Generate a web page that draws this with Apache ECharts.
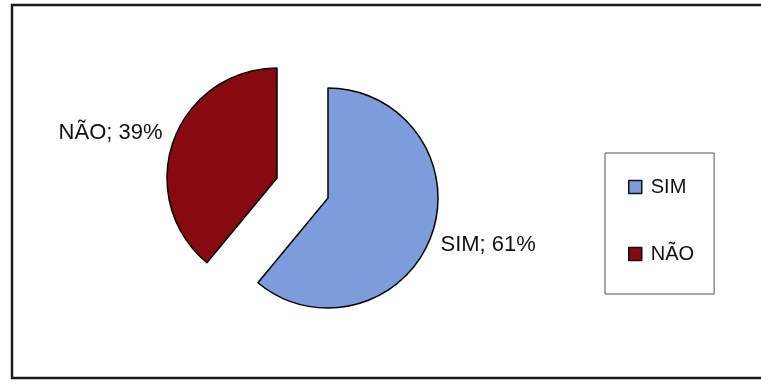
<!DOCTYPE html>
<html>
<head>
<meta charset="utf-8">
<script src="https://cdn.jsdelivr.net/npm/echarts@6/dist/echarts.min.js"></script>
<style>
  html, body { margin: 0; padding: 0; background: #fff; }
  #chart { width: 761px; height: 385px; }
</style>
</head>
<body>
<div id="chart"></div>
<script>
// Answers and their shares (%)
const categories = ['SIM', 'NÃO'];
const shares = [61, 39];

const sliceColors = ['#7c9cdb', '#870a10'];
const FONT = '"Liberation Sans", Arial, sans-serif';

// Each slice is drawn by its own pie series (exploded apart); the other
// slice in that series is kept invisible so the angles stay the same.
function sliceSeries(visibleIndex, center, labelOffset) {
  return {
    type: 'pie',
    center: center,
    radius: 110,
    startAngle: 90,
    clockwise: true,
    avoidLabelOverlap: false,
    silent: true,
    animation: false,
    label: {
      show: true,
      position: 'outside',
      formatter: '{b}; {c}%',
      fontFamily: FONT,
      fontSize: 22,
      color: '#111',
      offset: labelOffset
    },
    labelLine: { show: false, length: 0, length2: 0 },
    data: categories.map(function (name, i) {
      const visible = i === visibleIndex;
      return {
        name: name,
        value: shares[i],
        itemStyle: visible
          ? { color: sliceColors[i], borderColor: '#000', borderWidth: 1.5 }
          : { color: 'transparent', borderWidth: 0 },
        label: { show: visible }
      };
    })
  };
}

const chart = echarts.init(document.getElementById('chart'), null, { renderer: 'canvas' });
chart.setOption({
  backgroundColor: '#fff',
  animation: false,
  graphic: [{
    type: 'rect',
    shape: { x: 12, y: 5, width: 760, height: 373 },
    style: { fill: 'none', stroke: '#1a1a1a', lineWidth: 2.5 },
    silent: true
  }],
  legend: {
    orient: 'vertical',
    left: 605,
    top: 153,
    padding: [24, 20, 30, 23],
    itemGap: 47,
    itemWidth: 13,
    itemHeight: 13,
    icon: 'rect',
    borderColor: '#555',
    borderWidth: 1,
    selectedMode: false,
    textStyle: { fontFamily: FONT, fontSize: 20, color: '#111', padding: [0, 0, 0, 4] },
    data: categories.map(function (name, i) {
      return {
        name: name,
        itemStyle: { color: sliceColors[i], borderColor: '#111', borderWidth: 1.5 }
      };
    })
  },
  series: [
    sliceSeries(0, [328, 198], [4, 10]),
    sliceSeries(1, [277, 178], [-6, -8])
  ]
});
</script>
</body>
</html>
